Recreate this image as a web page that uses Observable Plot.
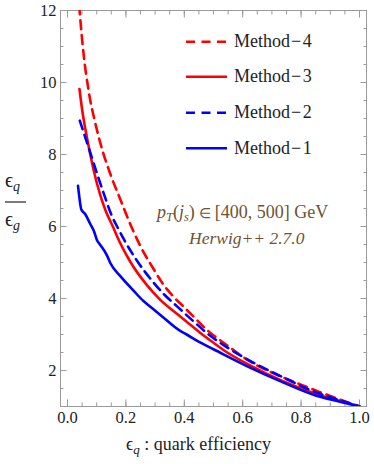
<!DOCTYPE html>
<html><head><meta charset="utf-8">
<script src="https://cdn.jsdelivr.net/npm/d3@7"></script>
<script src="https://cdn.jsdelivr.net/npm/@observablehq/plot@0.6"></script>
<style>
body{margin:0;background:#fff;}
#wrap{position:relative;width:374px;height:464px;}
#wrap svg{position:absolute;left:0;top:0;}
</style></head><body>
<div id="wrap"></div>
<script>
// ---- data ----
const methods = ["Method\u22124","Method\u22123","Method\u22122","Method\u22121"];
const colors  = ["#ff0000","#ff0000","#0000ff","#0000ff"];
const dashed  = [true,false,true,false];

const x4 = [0.040,0.046,0.053,0.060,0.067,0.078,0.090,0.113,0.147,0.181,0.221,0.250,0.300,0.323,0.363,0.403,0.437,0.477,0.516,0.561,0.625,0.693,0.795,0.852,0.920,1.000];
const y4 = [12.15,11.55,10.95,10.45,10.05,9.50,9.05,8.30,7.45,6.75,5.95,5.45,4.75,4.45,4.05,3.73,3.45,3.13,2.88,2.61,2.25,1.97,1.62,1.44,1.23,1.00];

const x3 = [0.041,0.050,0.067,0.090,0.113,0.130,0.158,0.170,0.215,0.272,0.317,0.352,0.386,0.425,0.454,0.500,0.534,0.625,0.738,0.852,0.930,1.000];
const y3 = [9.82,9.25,8.45,7.55,6.85,6.45,5.95,5.72,5.02,4.37,3.97,3.72,3.50,3.24,3.05,2.77,2.57,2.14,1.70,1.35,1.16,1.00];

const x2 = [0.042,0.061,0.078,0.101,0.124,0.150,0.175,0.192,0.238,0.294,0.330,0.370,0.431,0.488,0.545,0.625,0.738,0.852,0.930,1.000];
const y2 = [8.94,8.47,8.05,7.47,6.92,6.33,5.92,5.66,5.05,4.45,4.12,3.82,3.37,2.97,2.65,2.27,1.81,1.39,1.18,1.00];

const x1 = [0.036,0.040,0.047,0.061,0.078,0.090,0.101,0.113,0.135,0.147,0.181,0.226,0.260,0.272,0.317,0.386,0.408,0.454,0.500,0.625,0.738,0.852,0.930,1.000];
const y1 = [7.13,6.85,6.48,6.34,6.07,5.88,5.62,5.48,5.20,4.98,4.62,4.22,3.93,3.85,3.55,3.10,3.00,2.78,2.59,2.08,1.67,1.30,1.14,1.00];

const xMajor = [0, 0.2, 0.4, 0.6, 0.8, 1.0];
const xMinor = d3.range(0, 21).map(i => i * 0.05);
const yMajor = [2, 4, 6, 8, 10, 12];
const yMinor = d3.range(2, 25).map(i => i * 0.5);

const xs = [x4, x3, x2, x1], ys = [y4, y3, y2, y1];
const series = methods.map((m, i) => xs[i].map((x, j) => ({x, y: ys[i][j], method: m})));

const annotLine1 = ["p","T","(","j","s",")","\u2208","[400, 500] GeV"];
const annotLine2 = "Herwig++ 2.7.0";
const xLabel = "quark efficiency";

// ---- chart ----
const serif = "'Liberation Serif','Times New Roman',serif";
const gray = "#9a9a9a";
const tickOpts = (o) => Object.assign({stroke: gray, tickFormat: () => "", label: null}, o);
const chart = Plot.plot({
  width: 374, height: 464,
  marginLeft: 60, marginRight: 8, marginTop: 10, marginBottom: 58,
  x: {domain: [-0.024, 1.024]},
  y: {domain: [1, 12]},
  style: {fontFamily: serif, fontSize: "16.5px", color: "#222", background: "white", overflow: "visible"},
  marks: [
    Plot.axisX(xMinor, tickOpts({anchor: "bottom", tickSize: -3.5})),
    Plot.axisX(xMinor, tickOpts({anchor: "top", tickSize: -3.5})),
    Plot.axisX(xMajor, tickOpts({anchor: "bottom", tickSize: -6.5})),
    Plot.axisX(xMajor, tickOpts({anchor: "top", tickSize: -6.5})),
    Plot.axisY(yMinor, tickOpts({anchor: "left", tickSize: -3.5})),
    Plot.axisY(yMinor, tickOpts({anchor: "right", tickSize: -3.5})),
    Plot.axisY(yMajor, tickOpts({anchor: "left", tickSize: -6.5})),
    Plot.axisY(yMajor, tickOpts({anchor: "right", tickSize: -6.5})),
    Plot.axisX(xMajor, {anchor: "bottom", tickSize: 0, tickPadding: 5, tickFormat: d3.format(".1f"), label: null, fill: "#222"}),
    Plot.axisY(yMajor, {anchor: "left", tickSize: 0, tickPadding: 4, tickFormat: d3.format("d"), label: null, fill: "#222"}),
    Plot.frame({stroke: gray}),
    ...series.map((s, i) => Plot.line(s, {
      x: "x", y: "y", stroke: colors[i], strokeWidth: 2.6,
      strokeDasharray: dashed[i] ? "9,6" : null, curve: "monotone-x", clip: true
    }))
  ]
});
const wrap = document.getElementById("wrap");
wrap.appendChild(chart);

// ---- overlay: axis titles, legend, annotation ----
const ov = d3.select(wrap).append("svg").attr("width", 374).attr("height", 464)
  .style("font-family", serif);
const eps = "\u03F5";

// y title: fraction eps_q / eps_g
const yt = ov.append("g").attr("fill", "#222");
const t1 = yt.append("text").attr("x", 5).attr("y", 187).attr("font-size", 20);
t1.append("tspan").text(eps);
t1.append("tspan").attr("font-style", "italic").attr("font-size", 14).attr("dy", 4).text("q");
yt.append("line").attr("x1", 5).attr("x2", 26).attr("y1", 202).attr("y2", 202).attr("stroke", "#222").attr("stroke-width", 1.2);
const t2 = yt.append("text").attr("x", 5).attr("y", 226).attr("font-size", 20);
t2.append("tspan").text(eps);
t2.append("tspan").attr("font-style", "italic").attr("font-size", 14).attr("dy", 4).text("g");

// x title
const xt = ov.append("text").attr("x", 126).attr("y", 450).attr("font-size", 18).attr("fill", "#222");
xt.append("tspan").text(eps);
xt.append("tspan").attr("font-style", "italic").attr("font-size", 13).attr("dy", 4).text("q");
xt.append("tspan").attr("dy", -4).text(" :  " + xLabel);

// legend
const rowsY = [41.7, 76.7, 112.7, 148.3];
methods.forEach((m, i) => {
  ov.append("line").attr("x1", 186).attr("x2", 227).attr("y1", rowsY[i]).attr("y2", rowsY[i])
    .attr("stroke", colors[i]).attr("stroke-width", 2.6)
    .attr("stroke-dasharray", dashed[i] ? "9,6.5" : null);
  const parts = m.split("\u2212");
  const t = ov.append("text").attr("x", 234).attr("y", rowsY[i] + 5.5).attr("font-size", 18).attr("fill", "#222");
  t.append("tspan").text(parts[0]);
  t.append("tspan").attr("dx", 1).text("\u2212");
  t.append("tspan").attr("dx", 1.5).text(parts[1]);
});

// annotation
const brown = "#6e5233";
const a1 = ov.append("text").attr("x", 157).attr("y", 218).attr("font-size", 18).attr("fill", brown);
a1.append("tspan").attr("font-style", "italic").text(annotLine1[0]);
a1.append("tspan").attr("font-style", "italic").attr("font-size", 12.5).attr("dy", 3).text(annotLine1[1]);
a1.append("tspan").attr("dy", -3).text(annotLine1[2]);
a1.append("tspan").attr("font-style", "italic").text(annotLine1[3]);
a1.append("tspan").attr("font-style", "italic").attr("font-size", 12.5).attr("dy", 3).text(annotLine1[4]);
a1.append("tspan").attr("dy", -3).text(annotLine1[5]);
a1.append("tspan").attr("font-size", 14).attr("dx", 4).text(annotLine1[6]);
a1.append("tspan").attr("dx", 4).text(annotLine1[7]);
ov.append("text").attr("x", 189).attr("y", 244).attr("font-size", 17.5).attr("font-style", "italic").attr("fill", brown).text(annotLine2);
</script>
</body></html>
